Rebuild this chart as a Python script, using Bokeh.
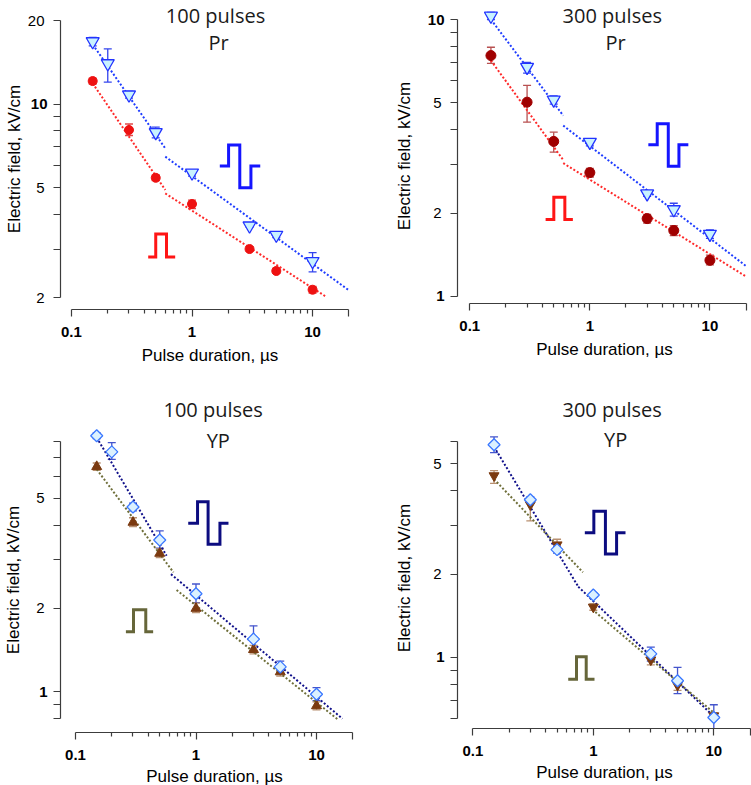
import numpy as np
from bokeh.plotting import figure
from bokeh.models import (ColumnDataSource, Whisker, TeeHead, Label, FixedTicker,
                          CustomJSTickFormatter, Range1d, LogAxis)
from bokeh.layouts import column, row
from bokeh.embed import file_html
from bokeh.resources import INLINE

# ---------------- data ----------------
# Panel 1: Pr, 100 pulses
p1_bip_x = [0.15, 0.2, 0.3, 0.5, 1, 3, 5, 10]
p1_bip_y = [16.8, 14.0, 10.8, 7.9, 5.65, 3.64, 3.37, 2.71]
p1_bip_lo = [16.2, 12.0, 10.5, 7.55, 5.5, 3.6, 3.3, 2.48]
p1_bip_hi = [17.4, 15.8, 11.1, 8.25, 5.8, 3.7, 3.45, 2.91]
p1_mono_x = [0.15, 0.3, 0.5, 1, 3, 5, 10]
p1_mono_y = [12.1, 8.06, 5.42, 4.36, 3.0, 2.50, 2.14]
p1_mono_lo = [11.8, 7.7, 5.3, 4.2, 2.95, 2.45, 2.08]
p1_mono_hi = [12.4, 8.47, 5.55, 4.5, 3.06, 2.56, 2.2]
p1_bip_fit = [([0.15, 0.6], [16.4, 6.92]), ([0.6, 20], [6.46, 2.13])]
p1_mono_fit = [([0.15, 0.6], [11.87, 4.90]), ([0.6, 12.7], [4.76, 2.03])]

# Panel 2: Pr, 300 pulses
p2_x = [0.15, 0.3, 0.5, 1, 3, 5, 10]
p2_bip_y = [10.3, 6.73, 5.13, 3.61, 2.35, 2.06, 1.68]
p2_bip_lo = [10.0, 6.4, 4.95, 3.5, 2.3, 1.95, 1.62]
p2_bip_hi = [10.6, 7.0, 5.3, 3.7, 2.4, 2.17, 1.74]
p2_mono_y = [7.41, 5.03, 3.63, 2.80, 1.91, 1.73, 1.35]
p2_mono_lo = [6.95, 4.26, 3.32, 2.7, 1.84, 1.66, 1.3]
p2_mono_hi = [7.94, 5.78, 3.92, 2.9, 1.98, 1.80, 1.41]
p2_bip_fit = [([0.15, 0.6], [10.0, 4.50]), ([0.6, 20], [4.14, 1.287])]
p2_mono_fit = [([0.15, 0.6], [7.11, 3.11]), ([0.6, 20], [3.03, 1.18])]

# Panel 3: YP, 100 pulses
p3_bip_x = [0.15, 0.2, 0.3, 0.5, 1, 3, 5, 10]
p3_bip_y = [8.4, 7.35, 4.65, 3.53, 2.26, 1.55, 1.23, 0.98]
p3_bip_lo = [8.2, 6.9, 4.5, 3.3, 2.1, 1.40, 1.17, 0.93]
p3_bip_hi = [8.6, 7.94, 4.8, 3.81, 2.45, 1.73, 1.29, 1.036]
p3_mono_x = [0.15, 0.3, 0.5, 1, 3, 5, 10]
p3_mono_y = [6.5, 4.09, 3.16, 2.00, 1.42, 1.18, 0.89]
p3_mono_lo = [6.3, 3.95, 3.05, 1.93, 1.37, 1.14, 0.86]
p3_mono_hi = [6.7, 4.25, 3.28, 2.09, 1.47, 1.22, 0.92]
p3_bip_fit = [([0.15, 0.57], [8.28, 3.10]), ([0.62, 16.4], [2.66, 0.80])]
p3_mono_fit = [([0.15, 0.65], [6.36, 2.70]), ([0.69, 14.9], [2.33, 0.797])]

# Panel 4: YP, 300 pulses
p4_x = [0.15, 0.3, 0.5, 1, 3, 5, 10]
p4_bip_y = [5.86, 3.71, 2.45, 1.68, 1.03, 0.824, 0.607]
p4_bip_lo = [5.49, 3.6, 2.38, 1.65, 0.97, 0.74, 0.551]
p4_bip_hi = [6.25, 3.8, 2.52, 1.71, 1.09, 0.92, 0.675]
p4_mono_y = [4.53, 3.56, 2.55, 1.52, 0.98, 0.794, 0.616]
p4_mono_lo = [4.25, 3.11, 2.45, 1.48, 0.94, 0.76, 0.60]
p4_mono_hi = [4.72, 3.75, 2.67, 1.56, 1.01, 0.82, 0.63]
p4_bip_fit = [([0.15, 0.75], [5.76, 1.80]), ([0.75, 10.5], [1.80, 0.60])]
p4_mono_fit = [([0.15, 0.82], [4.40, 2.03]), ([0.98, 10.7], [1.49, 0.616])]

# tick labels
x_tick_labels = [0.1, 1, 10]
x_major = [0.1, 1, 10, 20]
x_minor = [0.2, 0.3, 0.4, 0.5, 0.6, 0.7, 0.8, 0.9, 2, 3, 4, 5, 6, 7, 8, 9]

AXIS_FONT = "Liberation Sans"
TITLE_FONT = "Open Sans"
AXIS_COLOR = "#3c3c3c"
SHOW_CODE = """
const v = Math.round(tick*1000)/1000;
return show.includes(v) ? String(v) : "";"""


def bip_icon(xs, ys):
    x0, x1, x2, x3, x4 = xs
    yb, yt, yl = ys
    return ([x0, x1, x1, x2, x2, x3, x3, x4], [yb, yb, yt, yt, yl, yl, yb, yb])


def mono_icon(xs, ys):
    x0, x1, x2, x3 = xs
    yb, yt = ys
    return ([x0, x1, x1, x2, x2, x3], [yb, yb, yt, yt, yb, yb])


def style_axis(ax):
    ax.axis_line_color = AXIS_COLOR
    ax.axis_line_width = 1.2
    ax.major_tick_line_color = AXIS_COLOR
    ax.minor_tick_line_color = AXIS_COLOR
    ax.major_tick_line_width = 1.2
    ax.minor_tick_line_width = 1.2
    ax.major_tick_in = 0
    ax.minor_tick_in = 0
    ax.major_label_text_font = AXIS_FONT
    ax.major_label_text_font_size = "15px"
    ax.major_label_text_color = "black"
    ax.axis_label_text_font = AXIS_FONT
    ax.axis_label_text_font_size = "17px"
    ax.axis_label_text_font_style = "normal"
    ax.axis_label_text_color = "black"


def make_panel(cfg):
    p = figure(x_axis_type="log", y_axis_type="log",
               x_range=Range1d(cfg["x_start"], cfg["x_end"]),
               y_range=Range1d(cfg["y_start"], cfg["y_end"]),
               frame_width=cfg["fw"], frame_height=cfg["fh"],
               min_border_left=cfg["bl"], min_border_right=cfg["br"],
               min_border_top=cfg["bt"], min_border_bottom=cfg["bb"],
               output_backend="svg", toolbar_location=None,
               title=cfg.get("title"))
    p.grid.visible = False
    p.outline_line_color = None
    p.background_fill_color = "white"
    p.border_fill_color = "white"

    if cfg.get("title"):
        p.title.align = "left"
        p.title.offset = cfg["title_off"]
        p.title.standoff = 9
        p.title.text_font = TITLE_FONT
        p.title.text_font_size = "20px"
        p.title.text_font_style = "normal"
        p.title.text_color = "#1a1a1a"

    xa = p.xaxis[0]
    style_axis(xa)
    xa.major_label_text_font_style = "bold"
    xa.bounds = (0.1, 20)
    xa.ticker = FixedTicker(ticks=x_major, minor_ticks=x_minor)
    xa.formatter = CustomJSTickFormatter(args=dict(show=x_tick_labels), code=SHOW_CODE)
    xa.major_tick_out = 7
    xa.minor_tick_out = 4
    xa.major_label_standoff = 10
    xa.axis_label = "Pulse duration, \u00b5s"
    xa.axis_label_standoff = cfg["xals"]

    # inner y axis: line, ticks and bold decade labels
    ya = p.yaxis[0]
    style_axis(ya)
    ya.major_label_text_font_style = "bold"
    ya.bounds = (cfg["yb0"], cfg["yb1"])
    ya.ticker = FixedTicker(ticks=cfg["y_ticks"], minor_ticks=[])
    ya.formatter = CustomJSTickFormatter(args=dict(show=cfg["y_bold"]), code=SHOW_CODE)
    ya.major_tick_out = 7
    ya.minor_tick_out = 0
    ya.major_label_standoff = 6

    # outer y axis: regular-weight labels aligned with the inner ones + title
    ya2 = LogAxis()
    style_axis(ya2)
    ya2.major_label_text_font_style = "normal"
    ya2.axis_line_color = None
    ya2.major_tick_line_color = None
    ya2.minor_tick_line_color = None
    ya2.major_tick_out = 0
    ya2.minor_tick_out = 0
    ya2.bounds = (cfg["yb0"], cfg["yb1"])
    ya2.ticker = FixedTicker(ticks=cfg["y_regular"], minor_ticks=[])
    ya2.formatter = CustomJSTickFormatter(args=dict(show=cfg["y_regular"]), code=SHOW_CODE)
    ya2.major_label_standoff = -cfg["w1"]
    ya2.axis_label = "Electric field, kV/cm"
    ya2.axis_label_standoff = cfg["als"]
    p.add_layout(ya2, "left")

    # in-frame titles
    for (tx, ty, tt) in cfg["labels"]:
        p.add_layout(Label(x=tx, y=ty, text=tt, text_align="center",
                           text_baseline="middle", text_font=TITLE_FONT,
                           text_font_size="20px", text_color="#1a1a1a"))

    # fit lines
    for (fx, fy) in cfg["bip_fit"]:
        p.line(fx, fy, line_color=cfg["bip_fit_c"], line_width=2, line_dash="2 2")
    for (fx, fy) in cfg["mono_fit"]:
        p.line(fx, fy, line_color=cfg["mono_fit_c"], line_width=2, line_dash="2 2")

    # error bars
    for (bx, lo, hi, c) in [(cfg["bip_x"], cfg["bip_lo"], cfg["bip_hi"], cfg["bip_err_c"]),
                            (cfg["mono_x"], cfg["mono_lo"], cfg["mono_hi"], cfg["mono_err_c"])]:
        src = ColumnDataSource(dict(x=bx, lo=lo, hi=hi))
        p.add_layout(Whisker(source=src, base="x", lower="lo", upper="hi",
                             dimension="height", line_color=c, line_width=1.3,
                             upper_head=TeeHead(size=8, line_color=c, line_width=1.3),
                             lower_head=TeeHead(size=8, line_color=c, line_width=1.3)))

    # markers
    p.scatter(cfg["mono_x"], cfg["mono_y"], **cfg["mono_marker"])
    p.scatter(cfg["bip_x"], cfg["bip_y"], **cfg["bip_marker"])

    # pulse-shape icons
    bx, by = bip_icon(*cfg["bip_icon"])
    p.line(bx, by, line_color=cfg["bip_icon_c"], line_width=3, line_join="miter")
    mx, my = mono_icon(*cfg["mono_icon"])
    p.line(mx, my, line_color=cfg["mono_icon_c"], line_width=3, line_join="miter")
    return p


tri_blue = dict(marker="inverted_triangle", size=13, fill_color="#c8f2ff",
                line_color="#2233ff", line_width=1.3)
diam_blue = dict(marker="square", angle=np.pi / 4, size=8.5, fill_color="#dbf1ff",
                 line_color="#3a78ff", line_width=1.3)

cfg1 = dict(x_start=0.0811, x_end=24.5, y_start=1.816, y_end=22.1, fw=299, fh=301,
            bl=60, br=16, bt=7, bb=69, yb0=2, yb1=20, xals=6,
            y_ticks=[2, 3, 4, 5, 6, 7, 8, 9, 10, 20], y_bold=[10], y_regular=[2, 5, 20],
            w1=17, als=1,
            labels=[(1.567, 20.93, "100 pulses"), (1.66, 16.7, "Pr")],
            bip_x=p1_bip_x, bip_y=p1_bip_y, bip_lo=p1_bip_lo, bip_hi=p1_bip_hi,
            mono_x=p1_mono_x, mono_y=p1_mono_y, mono_lo=p1_mono_lo, mono_hi=p1_mono_hi,
            bip_fit=p1_bip_fit, mono_fit=p1_mono_fit,
            bip_fit_c="#1f3dff", mono_fit_c="#ff2a2a",
            bip_err_c="#3344ee", mono_err_c="#e04848",
            bip_marker=tri_blue,
            mono_marker=dict(marker="circle", size=9, fill_color="#ee1111",
                             line_color="#ee1111"),
            bip_icon=([1.70, 2.01, 2.49, 3.08, 3.68], [5.98, 7.12, 4.99]),
            mono_icon=([0.433, 0.50, 0.614, 0.725], [2.81, 3.40]),
            bip_icon_c="#1515ff", mono_icon_c="#ff1515")

cfg2 = dict(x_start=0.0790, x_end=22.2, y_start=0.943, y_end=10.96, fw=294, fh=295,
            bl=82, br=0, bt=8, bb=74, yb0=1, yb1=10, xals=6,
            y_ticks=[1, 2, 3, 4, 5, 6, 7, 8, 9, 10], y_bold=[1, 10], y_regular=[2, 5],
            w1=17, als=16,
            labels=[(1.537, 10.34, "300 pulses"), (1.64, 8.29, "Pr")],
            bip_x=p2_x, bip_y=p2_bip_y, bip_lo=p2_bip_lo, bip_hi=p2_bip_hi,
            mono_x=p2_x, mono_y=p2_mono_y, mono_lo=p2_mono_lo, mono_hi=p2_mono_hi,
            bip_fit=p2_bip_fit, mono_fit=p2_mono_fit,
            bip_fit_c="#1f3dff", mono_fit_c="#ff2a2a",
            bip_err_c="#3344ee", mono_err_c="#b85050",
            bip_marker=tri_blue,
            mono_marker=dict(marker="circle", size=10, fill_color="#a00000",
                             line_color="#a00000"),
            bip_icon=([3.07, 3.64, 4.50, 5.52, 6.61], [3.53, 4.20, 2.95]),
            mono_icon=([0.428, 0.501, 0.619, 0.722], [1.897, 2.28]),
            bip_icon_c="#1515ff", mono_icon_c="#ff1515")

cfg3 = dict(x_start=0.0751, x_end=27.0, y_start=0.713, y_end=9.0, fw=308, fh=305,
            bl=60, br=7, bt=50, bb=53, yb0=0.8, yb1=8, xals=4,
            y_ticks=[0.8, 0.9, 1, 2, 3, 4, 5, 6, 7, 8], y_bold=[1], y_regular=[2, 5],
            w1=8, als=10, title="100 pulses", title_off=103,
            labels=[(1.53, 8.11, "YP")],
            bip_x=p3_bip_x, bip_y=p3_bip_y, bip_lo=p3_bip_lo, bip_hi=p3_bip_hi,
            mono_x=p3_mono_x, mono_y=p3_mono_y, mono_lo=p3_mono_lo, mono_hi=p3_mono_hi,
            bip_fit=p3_bip_fit, mono_fit=p3_mono_fit,
            bip_fit_c="#10108a", mono_fit_c="#6f6f3a",
            bip_err_c="#4455cc", mono_err_c="#b89070",
            bip_marker=diam_blue,
            mono_marker=dict(marker="triangle", size=10, fill_color="#7b3a10",
                             line_color="#7b3a10"),
            bip_icon=([0.862, 1.03, 1.26, 1.58, 1.86], [4.06, 4.85, 3.41]),
            mono_icon=([0.262, 0.303, 0.383, 0.441], [1.647, 1.977]),
            bip_icon_c="#0c0c80", mono_icon_c="#66663a")

cfg4 = dict(x_start=0.0746, x_end=20.55, y_start=0.554, y_end=6.76, fw=294, fh=301,
            bl=82, br=0, bt=50, bb=57, yb0=0.6, yb1=6, xals=4,
            y_ticks=[0.6, 0.7, 0.8, 0.9, 1, 2, 3, 4, 5, 6], y_bold=[1], y_regular=[2, 5],
            w1=8, als=16, title="300 pulses", title_off=105,
            labels=[(1.53, 6.10, "YP")],
            bip_x=p4_x, bip_y=p4_bip_y, bip_lo=p4_bip_lo, bip_hi=p4_bip_hi,
            mono_x=p4_x, mono_y=p4_mono_y, mono_lo=p4_mono_lo, mono_hi=p4_mono_hi,
            bip_fit=p4_bip_fit, mono_fit=p4_mono_fit,
            bip_fit_c="#10108a", mono_fit_c="#6f6f3a",
            bip_err_c="#4455cc", mono_err_c="#b89070",
            bip_marker=diam_blue,
            mono_marker=dict(marker="inverted_triangle", size=10, fill_color="#7b3a10",
                             line_color="#7b3a10"),
            bip_icon=([0.850, 1.01, 1.26, 1.56, 1.85], [2.82, 3.37, 2.36]),
            mono_icon=([0.619, 0.725, 0.873, 1.023], [0.835, 1.006]),
            bip_icon_c="#0c0c80", mono_icon_c="#66663a")

p1 = make_panel(cfg1)
p2 = make_panel(cfg2)
p3 = make_panel(cfg3)
p4 = make_panel(cfg4)

layout = column(row(p1, p2, spacing=0), row(p3, p4, spacing=0), spacing=0)

html = file_html(layout, INLINE)
html = html.replace("</head>", "<style>html, body { overflow: hidden; }</style></head>", 1)
with open("out.html", "w") as f:
    f.write(html)
